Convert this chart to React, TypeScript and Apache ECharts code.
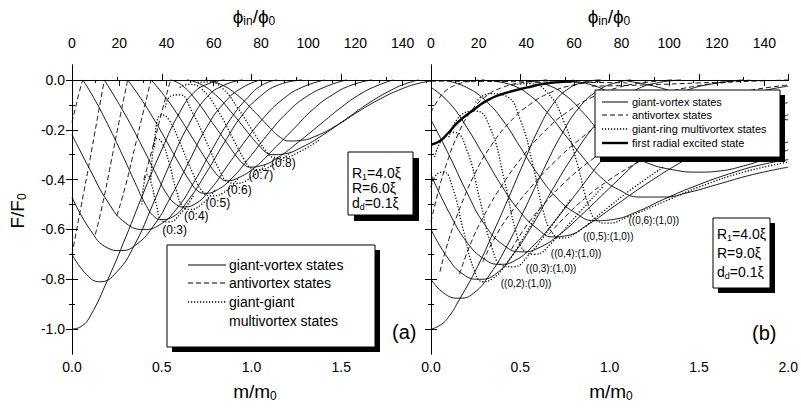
import React, { useEffect, useRef } from "react";
import * as echarts from "echarts";

const FONT = "'Liberation Sans', Arial, Helvetica, sans-serif";

// ---- tick values ----
const mMajor = [0, 0.5, 1.0, 1.5, 2.0];
const mMinor = [0.25, 0.75, 1.25, 1.75];
const mLabelsA = [0, 0.5, 1.0, 1.5];
const mLabelsB = [0, 0.5, 1.0, 1.5, 2.0];
const fMajor = [-1.0, -0.8, -0.6, -0.4, -0.2, 0.0];
const fMinor = [-0.9, -0.7, -0.5, -0.3, -0.1];
const phiMajor = [0, 20, 40, 60, 80, 100, 120, 140];
const phiMinorA = [10, 30, 50, 70, 90, 110, 130, 150];
const phiMinorB = [10, 30, 50, 70, 90, 110, 130];
const phiMaxA = 152;
const phiMaxB = 150;

// ---- panel (a): R1=4.0, R=6.0 ----
const aGiantVortex = [
  [[0,-1.0],[0.05,-0.99],[0.1,-0.95],[0.2,-0.80],[0.3,-0.63],[0.4,-0.45],[0.5,-0.28],[0.6,-0.13],[0.68,-0.05],[0.76,-0.015],[0.85,0]],
  [[0,-0.70],[0.08,-0.78],[0.155,-0.81],[0.25,-0.77],[0.35,-0.66],[0.45,-0.50],[0.55,-0.33],[0.65,-0.18],[0.75,-0.07],[0.85,-0.02],[0.95,0]],
  [[0,-0.47],[0.1,-0.60],[0.2,-0.675],[0.27,-0.685],[0.35,-0.665],[0.45,-0.59],[0.55,-0.47],[0.65,-0.33],[0.75,-0.19],[0.85,-0.09],[0.95,-0.03],[1.05,0]],
  [[0,-0.22],[0.1,-0.36],[0.2,-0.49],[0.3,-0.575],[0.4,-0.60],[0.48,-0.585],[0.58,-0.52],[0.68,-0.41],[0.78,-0.28],[0.88,-0.16],[0.98,-0.07],[1.06,-0.02],[1.14,0]],
  [[0.06,0],[0.12,-0.07],[0.2,-0.18],[0.28,-0.30],[0.35,-0.41],[0.41,-0.50],[0.46,-0.55],[0.5,-0.56],[0.56,-0.55],[0.65,-0.48],[0.75,-0.37],[0.85,-0.25],[0.95,-0.14],[1.05,-0.065],[1.15,-0.02],[1.28,0]],
  [[0.18,0],[0.24,-0.07],[0.32,-0.17],[0.4,-0.28],[0.47,-0.38],[0.53,-0.46],[0.58,-0.50],[0.62,-0.51],[0.68,-0.50],[0.77,-0.44],[0.87,-0.34],[0.97,-0.24],[1.07,-0.15],[1.17,-0.08],[1.28,-0.03],[1.41,0]],
  [[0.31,0],[0.37,-0.06],[0.45,-0.15],[0.53,-0.25],[0.6,-0.34],[0.66,-0.41],[0.7,-0.445],[0.74,-0.455],[0.8,-0.445],[0.89,-0.395],[0.99,-0.31],[1.1,-0.21],[1.2,-0.13],[1.3,-0.07],[1.42,-0.025],[1.53,0]],
  [[0.44,0],[0.5,-0.05],[0.58,-0.13],[0.66,-0.22],[0.73,-0.30],[0.79,-0.365],[0.83,-0.395],[0.86,-0.405],[0.92,-0.395],[1.02,-0.35],[1.12,-0.28],[1.23,-0.2],[1.34,-0.12],[1.45,-0.06],[1.56,-0.02],[1.67,0]],
  [[0.55,0],[0.61,-0.02],[0.69,-0.08],[0.78,-0.17],[0.86,-0.25],[0.92,-0.31],[0.96,-0.34],[0.99,-0.35],[1.05,-0.345],[1.15,-0.31],[1.26,-0.25],[1.38,-0.18],[1.5,-0.11],[1.61,-0.055],[1.71,-0.02],[1.79,0]],
  [[0.64,0],[0.71,-0.015],[0.8,-0.06],[0.9,-0.14],[0.99,-0.22],[1.05,-0.27],[1.09,-0.295],[1.12,-0.30],[1.18,-0.297],[1.28,-0.27],[1.4,-0.22],[1.53,-0.155],[1.66,-0.09],[1.78,-0.04],[1.86,-0.015],[1.93,0]],
  [[0.74,0],[0.82,-0.015],[0.92,-0.06],[1.02,-0.13],[1.1,-0.19],[1.16,-0.23],[1.21,-0.245],[1.27,-0.243],[1.36,-0.225],[1.48,-0.18],[1.6,-0.125],[1.72,-0.075],[1.84,-0.035],[1.94,-0.012],[2.0,-0.005]],
];
const aAntivortex = [
  [[0,-0.17],[0.02,-0.11],[0.04,-0.05],[0.06,0]],
  [[0,-0.70],[0.05,-0.51],[0.1,-0.32],[0.14,-0.16],[0.16,-0.08],[0.18,0]],
  [[0.13,-0.62],[0.17,-0.50],[0.22,-0.32],[0.27,-0.14],[0.29,-0.07],[0.31,0]],
  [[0.25,-0.545],[0.3,-0.42],[0.35,-0.27],[0.4,-0.12],[0.42,-0.06],[0.44,0]],
  [[0.4,-0.40],[0.45,-0.27],[0.5,-0.13],[0.53,-0.05],[0.55,0]],
];
const aMultivortex = [
  [[0.39,-0.50],[0.40,-0.42],[0.42,-0.38],[0.44,-0.41],[0.47,-0.50],[0.5,-0.565],[0.54,-0.57],[0.6,-0.54],[0.68,-0.46]],
  [[0.44,-0.40],[0.45,-0.29],[0.47,-0.235],[0.5,-0.25],[0.54,-0.33],[0.58,-0.44],[0.62,-0.51],[0.66,-0.52],[0.72,-0.50],[0.8,-0.44]],
  [[0.46,-0.27],[0.47,-0.18],[0.5,-0.14],[0.54,-0.16],[0.6,-0.25],[0.67,-0.37],[0.73,-0.45],[0.78,-0.465],[0.84,-0.455],[0.93,-0.39]],
  [[0.52,-0.11],[0.55,-0.065],[0.6,-0.06],[0.67,-0.13],[0.75,-0.25],[0.82,-0.36],[0.87,-0.41],[0.91,-0.415],[0.98,-0.4],[1.08,-0.34]],
  [[0.6,-0.03],[0.65,-0.018],[0.72,-0.035],[0.81,-0.12],[0.9,-0.24],[0.96,-0.32],[1.0,-0.355],[1.04,-0.36],[1.11,-0.345],[1.22,-0.29]],
  [[0.7,-0.01],[0.76,-0.008],[0.84,-0.035],[0.93,-0.12],[1.02,-0.22],[1.08,-0.285],[1.12,-0.31],[1.17,-0.312],[1.25,-0.295],[1.38,-0.24]],
];
const aStateLabels: [number, number, string][] = [
  [0.575, -0.605, "(0:3)"],
  [0.695, -0.55, "(0:4)"],
  [0.815, -0.495, "(0:5)"],
  [0.935, -0.443, "(0:6)"],
  [1.055, -0.385, "(0:7)"],
  [1.18, -0.335, "(0:8)"],
];

// ---- panel (b): R1=4.0, R=9.0 ----
const bGiantVortex = [
  [[0,-1.0],[0.05,-0.985],[0.1,-0.95],[0.16,-0.88],[0.26,-0.75],[0.35,-0.61],[0.43,-0.48],[0.52,-0.33],[0.6,-0.2],[0.68,-0.1],[0.76,-0.04],[0.85,-0.01],[0.95,0]],
  [[0,-0.80],[0.08,-0.86],[0.16,-0.876],[0.24,-0.855],[0.33,-0.78],[0.43,-0.66],[0.53,-0.51],[0.63,-0.36],[0.73,-0.22],[0.83,-0.11],[0.93,-0.045],[1.03,-0.012],[1.12,0]],
  [[0,-0.60],[0.09,-0.71],[0.18,-0.78],[0.27,-0.80],[0.36,-0.78],[0.46,-0.70],[0.57,-0.58],[0.68,-0.44],[0.8,-0.30],[0.92,-0.18],[1.04,-0.09],[1.16,-0.035],[1.28,-0.01],[1.4,0]],
  [[0,-0.38],[0.1,-0.53],[0.2,-0.65],[0.3,-0.72],[0.385,-0.74],[0.47,-0.725],[0.58,-0.66],[0.7,-0.56],[0.83,-0.44],[0.97,-0.31],[1.12,-0.19],[1.27,-0.1],[1.42,-0.045],[1.58,-0.015],[1.75,0]],
  [[0,-0.16],[0.1,-0.30],[0.2,-0.45],[0.3,-0.58],[0.41,-0.665],[0.51,-0.69],[0.6,-0.675],[0.72,-0.62],[0.86,-0.53],[1.02,-0.42],[1.2,-0.3],[1.4,-0.19],[1.6,-0.11],[1.8,-0.055],[2.0,-0.025]],
  [[0,-0.03],[0.1,-0.09],[0.2,-0.19],[0.3,-0.31],[0.4,-0.43],[0.5,-0.53],[0.6,-0.60],[0.68,-0.63],[0.76,-0.625],[0.88,-0.58],[1.02,-0.51],[1.2,-0.42],[1.4,-0.33],[1.6,-0.25],[1.8,-0.19],[2.0,-0.14]],
  [[0.1,-0.005],[0.2,-0.03],[0.3,-0.08],[0.4,-0.16],[0.5,-0.27],[0.6,-0.38],[0.7,-0.47],[0.8,-0.53],[0.92,-0.565],[1.02,-0.56],[1.15,-0.53],[1.3,-0.48],[1.5,-0.42],[1.7,-0.37],[1.85,-0.34],[2.0,-0.32]],
  [[0.35,-0.005],[0.45,-0.02],[0.55,-0.06],[0.65,-0.13],[0.75,-0.22],[0.85,-0.31],[0.95,-0.39],[1.05,-0.44],[1.17,-0.47],[1.3,-0.47],[1.45,-0.45],[1.6,-0.42],[1.8,-0.38],[2.0,-0.35]],
  [[0.55,-0.005],[0.65,-0.02],[0.75,-0.06],[0.85,-0.13],[0.95,-0.21],[1.07,-0.28],[1.2,-0.33],[1.35,-0.36],[1.5,-0.37],[1.62,-0.365],[1.75,-0.345],[1.88,-0.315],[2.0,-0.28]],
  [[0.8,-0.005],[0.9,-0.02],[1.0,-0.05],[1.1,-0.09],[1.2,-0.14],[1.32,-0.19],[1.45,-0.23],[1.6,-0.255],[1.75,-0.265],[1.88,-0.26],[2.0,-0.25]],
  [[1.1,-0.005],[1.25,-0.025],[1.4,-0.06],[1.55,-0.1],[1.7,-0.13],[1.85,-0.15],[2.0,-0.16]],
];
const bAntivortex = [
  [[0,-0.005],[0.3,-0.006],[0.6,-0.008],[0.9,-0.01],[1.1,-0.012]],
  [[0.9,-0.025],[1.2,-0.02],[1.5,-0.012],[1.8,-0.005],[2.0,0]],
  [[0,-0.13],[0.04,-0.08],[0.08,-0.045],[0.14,-0.02],[0.22,-0.005],[0.3,0]],
  [[0,-0.57],[0.04,-0.45],[0.09,-0.33],[0.15,-0.22],[0.22,-0.13],[0.3,-0.07],[0.4,-0.03],[0.52,-0.01],[0.65,0]],
  [[0.05,-0.77],[0.1,-0.64],[0.17,-0.5],[0.25,-0.37],[0.34,-0.26],[0.44,-0.17],[0.55,-0.1],[0.67,-0.05],[0.8,-0.02],[0.95,-0.005]],
  [[0.16,-0.78],[0.22,-0.66],[0.3,-0.54],[0.4,-0.42],[0.51,-0.31],[0.63,-0.21],[0.76,-0.13],[0.9,-0.07],[1.05,-0.03],[1.2,-0.01],[1.35,0]],
  [[0.29,-0.73],[0.36,-0.63],[0.45,-0.53],[0.56,-0.43],[0.69,-0.33],[0.83,-0.24],[0.98,-0.16],[1.14,-0.1],[1.3,-0.055],[1.48,-0.025],[1.65,-0.01],[1.8,0]],
  [[0.45,-0.68],[0.53,-0.59],[0.63,-0.5],[0.75,-0.41],[0.9,-0.32],[1.06,-0.24],[1.24,-0.17],[1.42,-0.11],[1.6,-0.07],[1.8,-0.04],[2.0,-0.02]],
  [[0.66,-0.62],[0.75,-0.55],[0.87,-0.47],[1.0,-0.4],[1.16,-0.33],[1.34,-0.26],[1.52,-0.2],[1.7,-0.15],[1.85,-0.12],[2.0,-0.09]],
];
const bRingMultivortex = [
  [[0.0,-0.43],[0.03,-0.38],[0.07,-0.37],[0.12,-0.43],[0.18,-0.6],[0.24,-0.76],[0.29,-0.81],[0.34,-0.80],[0.42,-0.74],[0.52,-0.63],[0.62,-0.5]],
  [[0.02,-0.31],[0.07,-0.23],[0.13,-0.21],[0.2,-0.28],[0.27,-0.47],[0.34,-0.67],[0.4,-0.745],[0.46,-0.75],[0.55,-0.7],[0.66,-0.6],[0.78,-0.48]],
  [[0.1,-0.23],[0.17,-0.14],[0.25,-0.125],[0.33,-0.19],[0.41,-0.4],[0.48,-0.62],[0.53,-0.69],[0.58,-0.7],[0.68,-0.65],[0.82,-0.54],[0.96,-0.43]],
  [[0.25,-0.09],[0.33,-0.055],[0.42,-0.065],[0.5,-0.16],[0.57,-0.34],[0.63,-0.53],[0.68,-0.615],[0.73,-0.635],[0.82,-0.61],[0.96,-0.53],[1.12,-0.44],[1.3,-0.35]],
  [[0.45,-0.02],[0.55,-0.015],[0.65,-0.05],[0.74,-0.16],[0.82,-0.34],[0.88,-0.5],[0.93,-0.565],[0.99,-0.575],[1.1,-0.55],[1.3,-0.49],[1.5,-0.43],[1.75,-0.37],[2.0,-0.33]],
];
const bRadialExcited = [[0,-0.26],[0.05,-0.245],[0.1,-0.21],[0.15,-0.17],[0.22,-0.13],[0.32,-0.08],[0.43,-0.05],[0.54,-0.03],[0.63,-0.016],[0.72,-0.008],[0.8,-0.004]];
const bStateLabels: [number, number, string][] = [
  [0.535, -0.82, "((0,2):(1,0))"],
  [0.675, -0.76, "((0,3):(1,0))"],
  [0.815, -0.70, "((0,4):(1,0))"],
  [0.995, -0.632, "((0,5):(1,0))"],
  [1.25, -0.568, "((0,6):(1,0))"],
];

const SOLID = "solid";
const DASH = [5, 3];
const DOT = [1.2, 1.8];

function lineSeries(data: number[][], panel: number, type: any, width: number) {
  return {
    type: "line",
    data,
    xAxisIndex: panel * 4,
    yAxisIndex: panel * 4,
    showSymbol: false,
    symbol: "none",
    smooth: 0.5,
    silent: true,
    clip: true,
    lineStyle: { color: "#000", width, type },
    z: 2,
  };
}

function labelSeries(items: [number, number, string][], panel: number, size: number) {
  return {
    type: "scatter",
    xAxisIndex: panel * 4,
    yAxisIndex: panel * 4,
    data: items.map(([m, f, t]) => ({ value: [m, f], name: t })),
    symbolSize: 1,
    itemStyle: { color: "#fff", opacity: 0 },
    silent: true,
    label: {
      show: true, position: [0, 0], align: "center", verticalAlign: "middle",
      formatter: "{b}", color: "#000", opacity: 1, textBorderWidth: 0, fontSize: size, fontFamily: FONT,
    },
    z: 5,
  };
}

function xAxes(grid: number, labels: number[], phiMax: number, phiMinor: number[]) {
  const base = { type: "value", gridIndex: grid, splitLine: { show: false } };
  const tickStyle = { lineStyle: { color: "#000", width: 1 } };
  return [
    {
      ...base, position: "bottom", min: 0, max: 2,
      axisLine: { show: true, lineStyle: { color: "#000", width: 1 } },
      axisTick: { show: true, inside: true, length: 6, customValues: mMajor, ...tickStyle },
      axisLabel: { show: true, customValues: labels, formatter: (v: number) => v.toFixed(1), color: "#000", fontSize: 14, fontFamily: FONT, margin: 6 },
    },
    {
      ...base, position: "bottom", min: 0, max: 2,
      axisLine: { show: false },
      axisTick: { show: true, inside: true, length: 3, customValues: mMinor, ...tickStyle },
      axisLabel: { show: false },
    },
    {
      ...base, position: "top", min: 0, max: phiMax,
      axisLine: { show: true, lineStyle: { color: "#000", width: 1 } },
      axisTick: { show: true, inside: true, length: 6, customValues: phiMajor, ...tickStyle },
      axisLabel: { show: true, customValues: phiMajor, formatter: (v: number) => String(v), color: "#000", fontSize: 14, fontFamily: FONT, margin: 15 },
    },
    {
      ...base, position: "top", min: 0, max: phiMax,
      axisLine: { show: false },
      axisTick: { show: true, inside: true, length: 3, customValues: phiMinor, ...tickStyle },
      axisLabel: { show: false },
    },
  ];
}

function yAxes(grid: number, showLabels: boolean) {
  const base = { type: "value", gridIndex: grid, min: -1.1, max: 0.06, splitLine: { show: false } };
  const tickStyle = { lineStyle: { color: "#000", width: 1 } };
  const mk = (position: string, major: boolean, labels: boolean) => ({
    ...base, position,
    axisLine: { show: major, lineStyle: { color: "#000", width: 1 } },
    axisTick: { show: true, inside: true, length: major ? 6 : 3, customValues: major ? fMajor : fMinor, ...tickStyle },
    axisLabel: labels
      ? { show: true, customValues: fMajor, formatter: (v: number) => v.toFixed(1), color: "#000", fontSize: 14, fontFamily: FONT, margin: 7 }
      : { show: false },
  });
  return [mk("left", true, showLabels), mk("left", false, false), mk("right", true, false), mk("right", false, false)];
}

function boxWithShadow(x: number, y: number, w: number, h: number, off: number) {
  return [
    { type: "rect", shape: { x: x + off, y: y + off, width: w, height: h }, style: { fill: "#000" }, z: 10 },
    { type: "rect", shape: { x, y, width: w, height: h }, style: { fill: "#fff", stroke: "#000", lineWidth: 1 }, z: 11 },
  ];
}

function txt(x: number, y: number, text: string, size: number, extra: any = {}) {
  return {
    type: "text", x, y, z: 12,
    style: { text, fill: "#000", fontSize: size, fontFamily: FONT, align: "left", verticalAlign: "middle", ...extra },
  };
}

function richTxt(x: number, y: number, text: string, size: number, subSize: number, extra: any = {}) {
  return {
    type: "text", x, y, z: 12, ...extra,
    style: {
      text, fill: "#000", fontFamily: FONT, fontSize: size, align: "center", verticalAlign: "middle",
      rich: {
        n: { fontSize: size, fontFamily: FONT, fill: "#000", lineHeight: size + 6 },
        s: { fontSize: subSize, fontFamily: FONT, fill: "#000", lineHeight: size + 6, padding: [Math.round(size * 0.55), 0, 0, 0] },
      },
    },
  };
}

const subRich = { n: { fontSize: 14, fontFamily: FONT }, s: { fontSize: 9, fontFamily: FONT, padding: [7, 0, 0, 0] } };

function legendLine(x1: number, x2: number, y: number, dash: any, w: number) {
  return {
    type: "line", z: 12,
    shape: { x1, y1: y, x2, y2: y },
    style: { stroke: "#000", lineWidth: w, lineDash: dash === SOLID ? null : dash },
  };
}

export default function App() {
  const ref = useRef<HTMLDivElement>(null);
  useEffect(() => {
    if (!ref.current) return;
    const chart = echarts.init(ref.current, undefined, { renderer: "svg" });
    const series: any[] = [];
    aGiantVortex.forEach((d) => series.push(lineSeries(d, 0, SOLID, 0.9)));
    aAntivortex.forEach((d) => series.push(lineSeries(d, 0, DASH, 0.9)));
    aMultivortex.forEach((d) => series.push(lineSeries(d, 0, DOT, 1.3)));
    bGiantVortex.forEach((d) => series.push(lineSeries(d, 1, SOLID, 0.9)));
    bAntivortex.forEach((d) => series.push(lineSeries(d, 1, DASH, 0.9)));
    bRingMultivortex.forEach((d) => series.push(lineSeries(d, 1, DOT, 1.3)));
    series.push(lineSeries(bRadialExcited, 1, SOLID, 2.4));
    series.push(labelSeries(aStateLabels, 0, 12));
    series.push(labelSeries(bStateLabels, 1, 10));

    const graphic: any[] = [
      // panel (a) legend
      ...boxWithShadow(167, 245, 208, 102, 5),
      legendLine(188, 226, 265, SOLID, 1),
      legendLine(188, 226, 283, DASH, 1),
      legendLine(188, 226, 302, DOT, 1.3),
      txt(229, 265, "giant-vortex states", 14),
      txt(229, 283, "antivortex states", 14),
      txt(229, 302, "giant-giant", 14),
      txt(229, 321, "multivortex states", 14),
      // panel (a) parameters
      ...boxWithShadow(348, 152, 65, 63, 6),
      txt(352, 173, "{n|R}{s|1}{n|=4.0ξ}", 14, { rich: subRich }),
      txt(352, 188, "R=6.0ξ", 14),
      txt(352, 203, "{n|d}{s|d}{n|=0.1ξ}", 14, { rich: subRich }),
      txt(392, 332, "(a)", 20),
      // panel (b) legend
      ...boxWithShadow(595, 90, 185, 67, 5),
      legendLine(602, 628, 102, SOLID, 1),
      legendLine(602, 628, 115, DASH, 1),
      legendLine(602, 628, 129, DOT, 1.3),
      legendLine(602, 628, 143, SOLID, 2.4),
      txt(632, 102, "giant-vortex states", 11),
      txt(632, 115, "antivortex states", 11),
      txt(632, 129, "giant-ring multivortex states", 11),
      txt(632, 143, "first radial excited state", 11),
      // panel (b) parameters
      ...boxWithShadow(713, 218, 57, 70, 5),
      txt(717, 234, "{n|R}{s|1}{n|=4.0ξ}", 14, { rich: subRich }),
      txt(717, 253, "R=9.0ξ", 14),
      txt(717, 272, "{n|d}{s|d}{n|=0.1ξ}", 14, { rich: subRich }),
      txt(752, 333, "(b)", 20),
      // axis titles
      richTxt(254, 16, "{n|ϕ}{s|in}{n|/ϕ}{s|0}", 19, 12),
      richTxt(609, 16, "{n|ϕ}{s|in}{n|/ϕ}{s|0}", 19, 12),
      richTxt(255, 391, "{n|m/m}{s|0}", 19, 12),
      richTxt(611, 391, "{n|m/m}{s|0}", 19, 12),
      richTxt(17, 211, "{n|F/F}{s|0}", 19, 12, { rotation: Math.PI / 2 }),
    ];

    chart.setOption({
      animation: false,
      backgroundColor: "#fff",
      grid: [
        { left: 72, top: 65, width: 359, height: 289 },
        { left: 431, top: 65, width: 359, height: 289 },
      ],
      xAxis: [...xAxes(0, mLabelsA, phiMaxA, phiMinorA), ...xAxes(1, mLabelsB, phiMaxB, phiMinorB)],
      yAxis: [...yAxes(0, true), ...yAxes(1, false)],
      series,
      graphic,
    });
    return () => chart.dispose();
  }, []);
  return <div ref={ref} style={{ position: "fixed", left: 0, top: 0, width: 801, height: 414, background: "#fff" }} />;
}
